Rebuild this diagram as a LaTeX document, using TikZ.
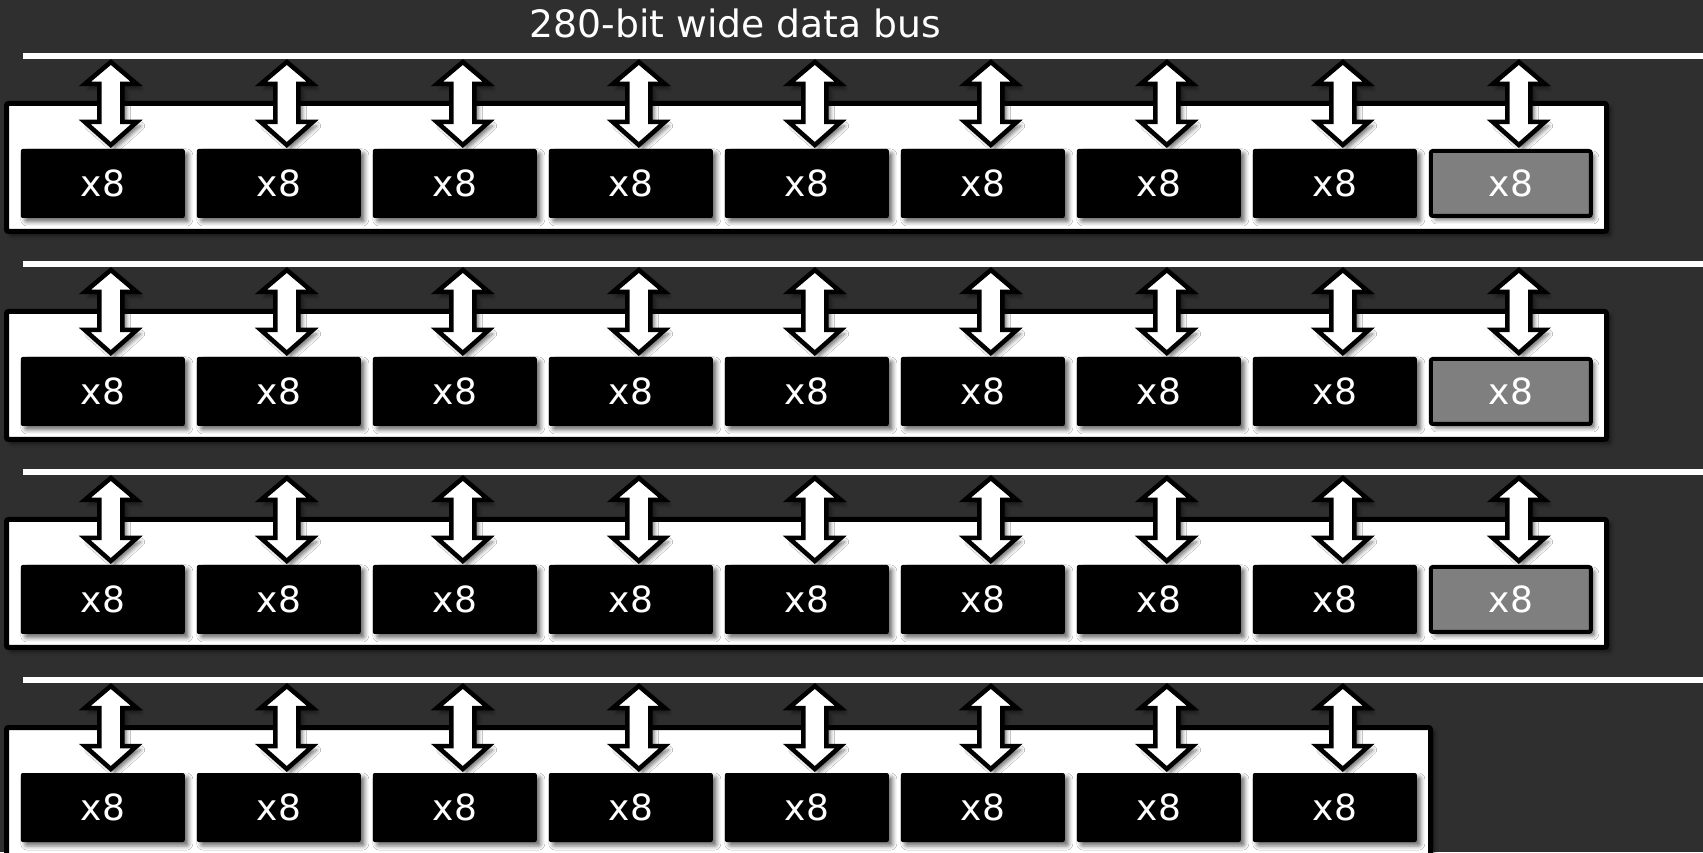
\documentclass[tikz,border=0pt]{standalone}
\usepackage{fontspec}
\setmainfont{DejaVu Sans}
\newfontfamily\chipfont{DejaVu Sans}
\newfontfamily\titlefont{DejaVu Sans}
\usetikzlibrary{shadows.blur}
\definecolor{bgc}{HTML}{2F2F2F}
\definecolor{chipgray}{HTML}{7F7F7F}
\begin{document}
\begin{tikzpicture}[x=1pt,y=1pt,
  softshadow/.style={blur shadow={shadow xshift=4pt, shadow yshift=-4pt, shadow blur radius=4pt, shadow opacity=55}},
  chipbox/.style={rectangle, rounded corners=2pt, fill=black, minimum width=164pt, minimum height=69pt, inner sep=0pt, text=white, font=\chipfont\fontsize{36}{40}\selectfont, softshadow},
  sparechip/.style={chipbox, fill=chipgray, draw=black, line width=4pt, minimum width=160pt, minimum height=65pt},
  board/.style={rectangle, rounded corners=2pt, fill=white, draw=black, line width=5pt, inner sep=0pt, minimum height=128pt, softshadow},
  busline/.style={draw=white, line width=6pt},
  dblarrow/.style={fill=white, draw=black, line width=4.5pt, miter limit=10, softshadow},
  titletext/.style={text=white, inner sep=0pt, font=\titlefont\fontsize{37.7}{42}\selectfont}]
\useasboundingbox (0,0) rectangle (1703,852);
\fill[bgc] (0,0) rectangle (1703,852);
\node[titletext] (title) at (735.4,829) {280-bit wide data bus};
\foreach \r in {0,...,3} {
  \pgfmathsetmacro\yb{852-56-208*\r}
  \pgfmathsetmacro\yboard{684.5-208*\r}
  \pgfmathsetmacro\ychip{668.5-208*\r}
  \coordinate (busL-\r) at (23,\yb);
  \coordinate (busR-\r) at (1703,\yb);
  \draw[busline] (busL-\r) -- (busR-\r);
  \ifnum\r<3
    \node[board, minimum width=1600pt] (board-\r) at (806.5,\yboard) {};
  \else
    \node[board, minimum width=1424pt] (board-\r) at (718.5,\yboard) {};
  \fi
  \foreach \i in {0,...,7} {
    \node[chipbox] (chip-\r-\i) at ({102.8+176*\i},\ychip) {x8};
  }
  \ifnum\r<3
    \node[sparechip] (chip-\r-8) at ({102.8+176*8},\ychip) {x8};
    \def\nlast{8}
  \else
    \def\nlast{7}
  \fi
  \foreach \i in {0,...,\nlast} {
    \path (chip-\r-\i.center) ++(8,38.5) coordinate (ab-\r-\i);
    \draw[dblarrow] (ab-\r-\i) -- ++(-26,23) -- ++(14.5,0) -- ++(0,38) -- ++(-14.5,0)
      -- ++(26,22) -- ++(26,-22) -- ++(-14.5,0) -- ++(0,-38) -- ++(14.5,0) -- cycle;
  }
}
\end{tikzpicture}
\end{document}
